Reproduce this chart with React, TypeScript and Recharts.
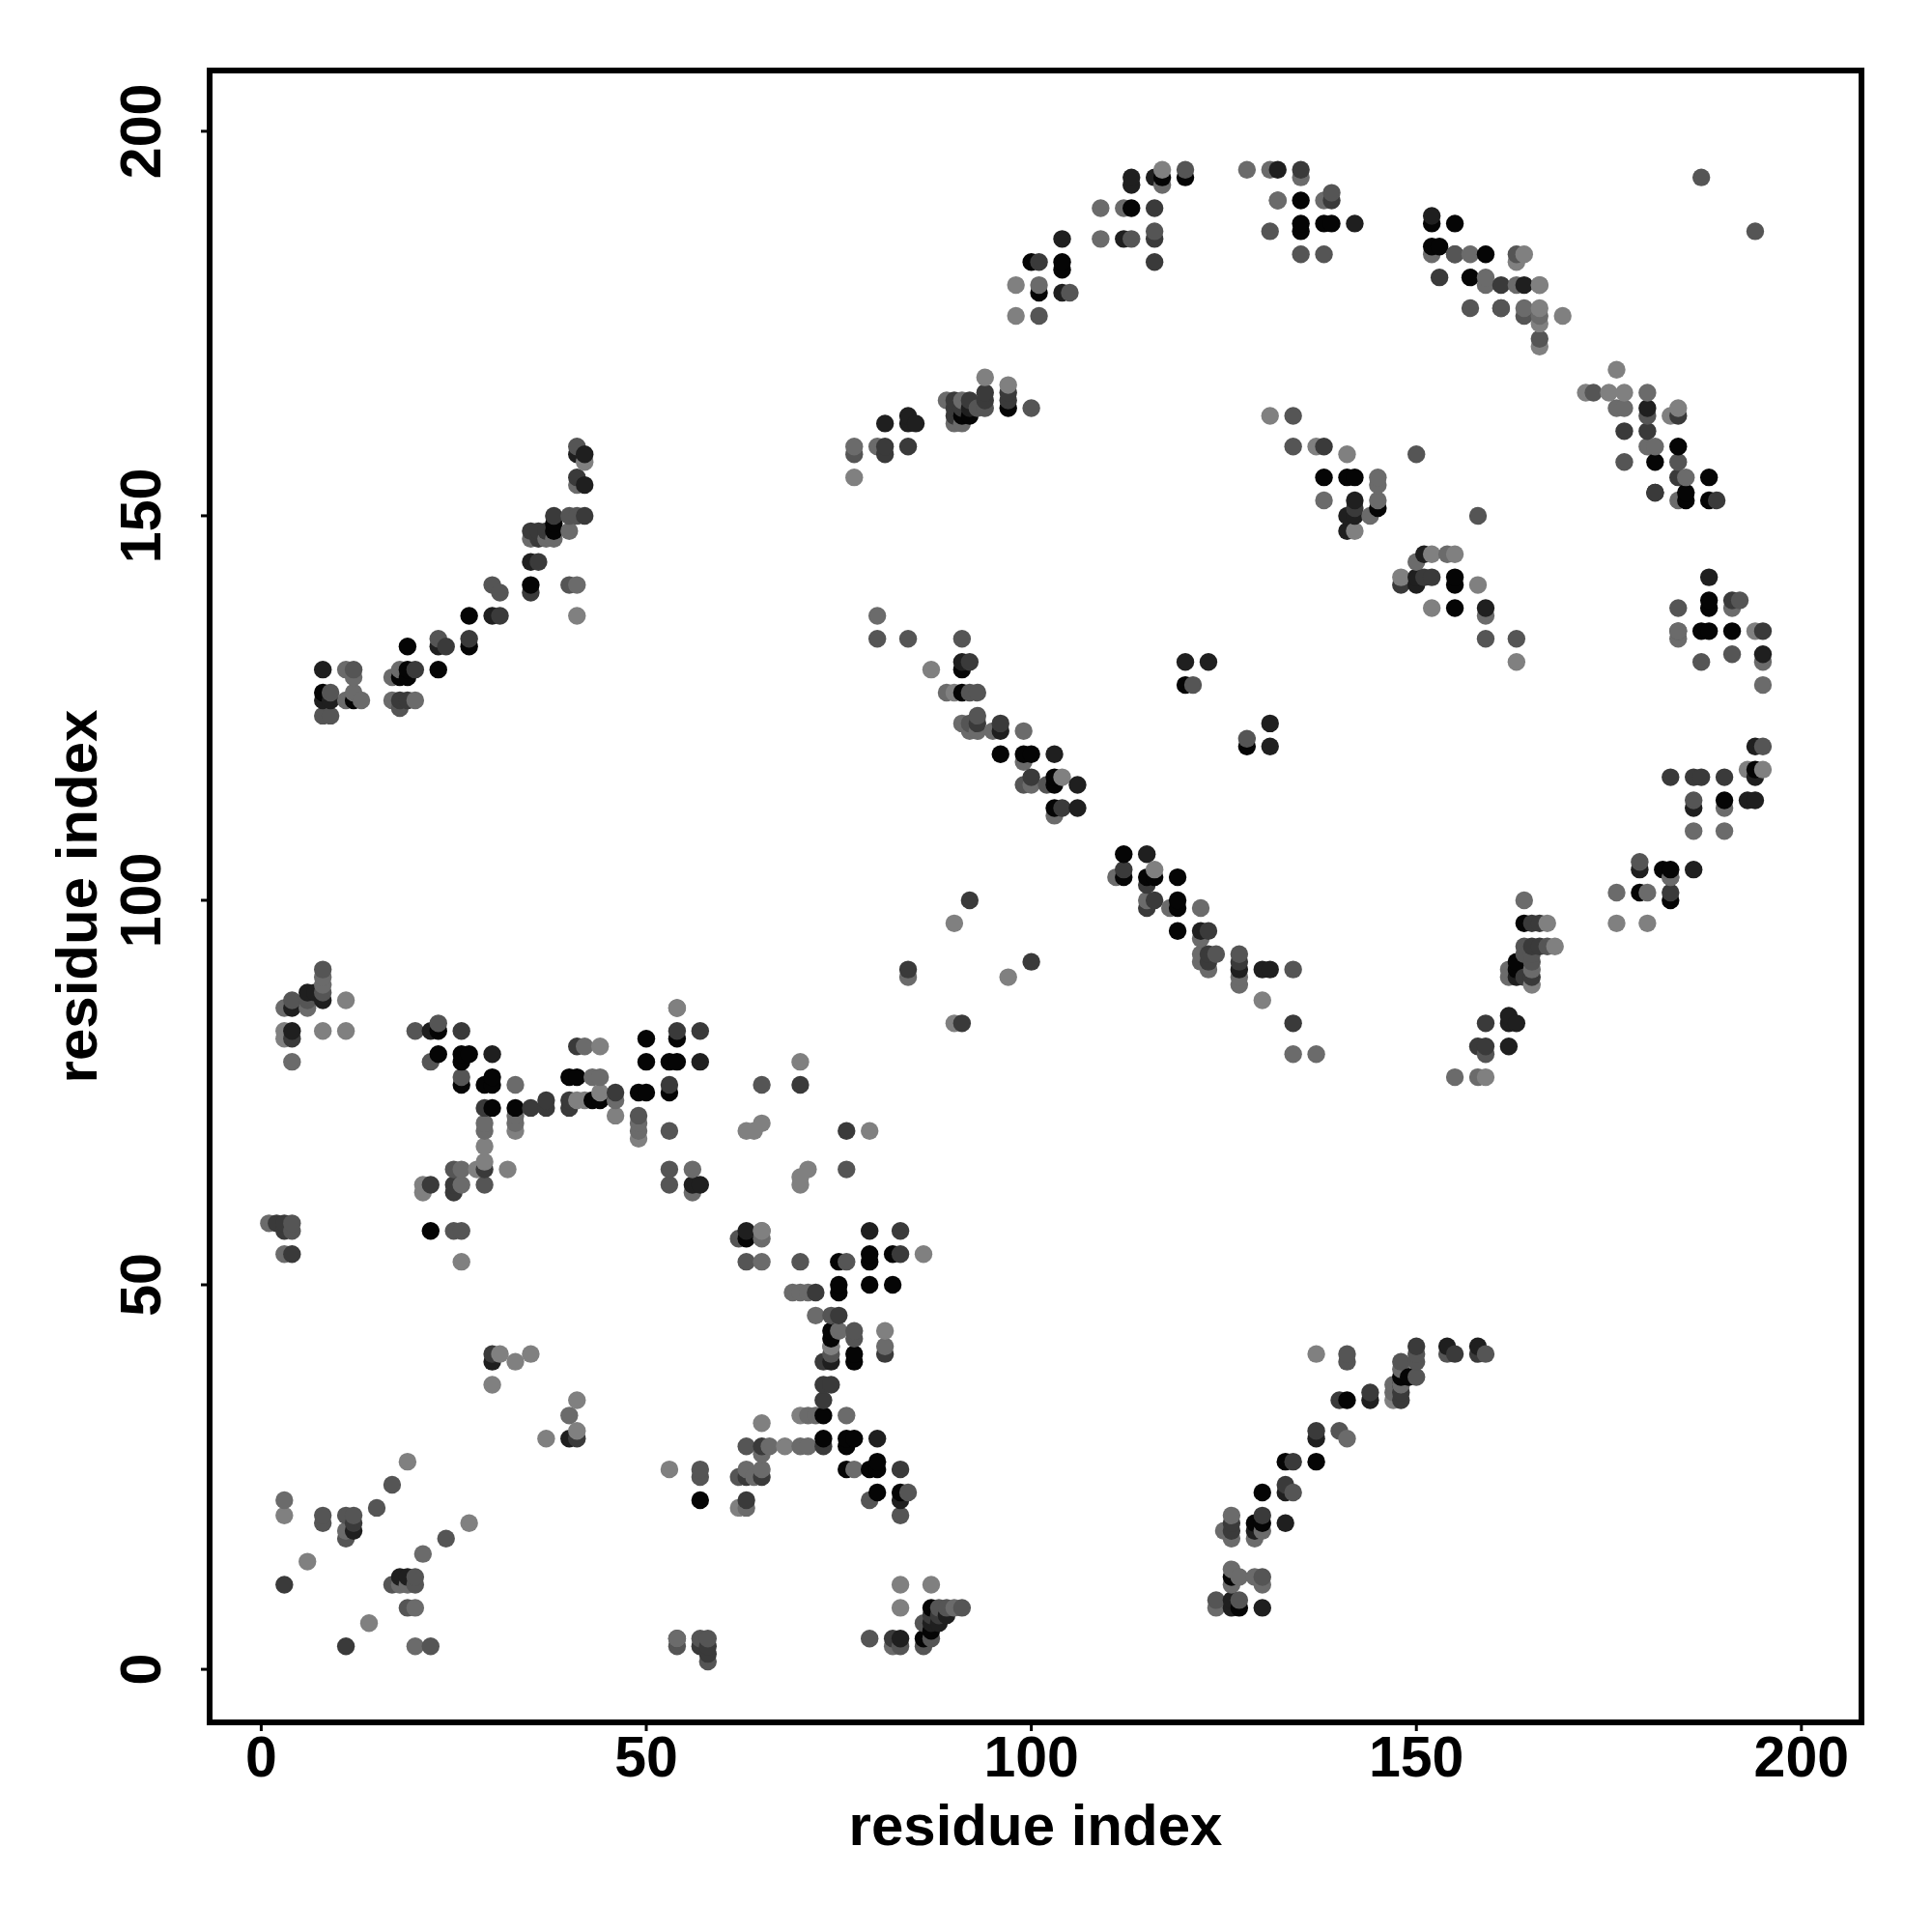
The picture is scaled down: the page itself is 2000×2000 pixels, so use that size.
import React from "react";
import { ScatterChart, Scatter, XAxis, YAxis, ReferenceArea } from "recharts";

// contacts grouped by grey level, [x residue, y residue]
const blackPoints = [
  [23,83],[23,80],[26,80],[27,80],[26,79],[26,76],[29,76],[30,77],[30,76],[30,73],[33,73],[40,77],[41,77],[43,74],[44,74],
  [49,75],[50,75],[53,75],[50,82],[50,79],[53,79],[54,79],[54,82],[22,57],[63,56],[75,53],[79,54],[79,53],[82,54],[79,50],
  [82,50],[75,50],[75,49],[74,44],[74,43],[77,41],[77,40],[73,33],[73,30],[76,30],[77,30],[76,29],[76,26],[79,26],[80,27],
  [80,26],[80,23],[83,23],[57,22],[86,4],[87,5],[87,8],[141,35],[133,27],[137,27],[130,23],[130,19],[129,19],[127,8],[126,12],
  [149,38],[148,38],[8,127],[12,126],[18,129],[19,129],[23,130],[19,130],[19,133],[27,137],[35,141],[27,133],[38,149],[38,148],
  [91,163],[92,163],[97,164],[91,130],[91,127],[96,119],[99,119],[100,119],[103,116],[103,115],[103,112],[112,103],[115,103],
  [116,103],[119,103],[112,106],[119,100],[119,99],[119,96],[120,128],[128,120],[113,190],[117,194],[120,194],[100,183],
  [104,183],[104,182],[101,179],[135,191],[135,188],[135,187],[138,188],[139,188],[152,188],[155,188],[152,185],[153,185],
  [159,184],[157,181],[184,159],[181,157],[188,155],[185,153],[185,152],[188,152],[138,155],[141,155],[142,155],[145,151],
  [155,142],[155,141],[155,138],[188,139],[188,138],[187,135],[188,135],[191,135],[194,117],[190,113],[182,104],[183,104],
  [179,101],[183,100],[164,97],[163,92],[163,91],
];
const veryDarkPoints = [
  [8,87],[7,88],[6,88],[4,86],[4,83],[22,83],[30,80],[63,57],[57,79],[79,57],[56,63],[57,63],[74,40],[80,30],[83,22],[30,40],
  [18,12],[19,12],[12,18],[40,30],[87,6],[88,6],[89,7],[83,4],[137,30],[144,35],[133,23],[129,18],[133,19],[126,9],[126,8],
  [130,8],[154,42],[158,42],[148,37],[42,158],[41,158],[42,154],[35,144],[30,137],[23,133],[8,130],[8,126],[9,126],[84,162],
  [84,163],[85,162],[81,162],[92,164],[91,131],[96,122],[103,119],[106,115],[106,112],[115,106],[122,96],[127,91],[130,91],
  [131,91],[120,131],[123,131],[131,123],[131,120],[113,194],[113,193],[116,194],[112,186],[104,186],[104,179],[132,195],
  [142,188],[152,189],[164,180],[180,164],[181,153],[142,152],[141,150],[142,150],[151,145],[150,142],[159,138],[188,142],
  [195,132],[194,120],[194,116],[193,113],[194,113],[186,112],[179,104],[186,104],[163,90],[162,85],[162,84],[163,84],[162,81],
  [141,148],[150,141],
];
const darkPoints = [
  [4,82],[26,83],[29,73],[35,73],[37,74],[37,73],[40,74],[40,73],[41,81],[46,75],[53,76],[54,83],[57,83],[29,65],[25,62],[22,63],
  [25,63],[2,58],[3,58],[3,57],[4,54],[30,41],[12,19],[3,11],[11,3],[41,30],[54,4],[57,3],[58,3],[58,2],[70,76],[76,70],[83,57],
  [83,54],[72,49],[75,46],[81,41],[73,40],[73,37],[74,37],[73,35],[73,29],[65,29],[83,26],[63,25],[65,25],[63,22],[82,4],[88,7],
  [87,7],[137,31],[140,35],[144,36],[133,24],[130,20],[126,19],[126,18],[150,42],[148,36],[148,35],[134,27],[155,41],[158,41],
  [38,150],[42,150],[35,148],[36,148],[37,148],[35,140],[36,147],[36,144],[41,155],[31,137],[24,133],[27,134],[18,126],[19,126],
  [20,130],[81,159],[81,158],[84,159],[94,166],[94,165],[97,166],[97,165],[90,165],[92,165],[90,164],[91,164],[90,163],[92,131],
  [93,123],[96,123],[100,116],[104,112],[112,104],[116,100],[115,99],[115,102],[123,96],[123,93],[123,92],[127,92],[92,100],
  [100,92],[84,91],[91,84],[116,190],[116,186],[116,183],[101,183],[135,195],[139,191],[155,184],[153,181],[161,180],[161,177],
  [177,161],[180,161],[184,155],[181,153],[189,152],[138,159],[142,151],[148,141],[151,142],[152,142],[191,139],[195,135],
  [183,116],[186,116],[187,116],[190,116],[183,101],[165,97],[166,97],[165,94],[166,94],[165,90],[164,90],[159,84],[158,81],
  [159,81],[134,84],[184,163],
];
const midPoints = [
  [8,91],[8,88],[6,87],[4,87],[20,83],[23,84],[22,79],[26,77],[49,72],[25,65],[29,63],[4,58],[4,57],[25,57],[26,57],[53,70],
  [53,65],[53,63],[65,76],[76,65],[62,56],[63,53],[70,53],[76,53],[77,44],[77,43],[74,46],[74,41],[63,29],[57,26],[57,25],[62,25],
  [79,22],[84,23],[83,20],[79,4],[83,3],[87,4],[86,3],[86,6],[88,8],[89,8],[91,8],[54,3],[57,4],[58,4],[58,1],[8,19],[8,20],[11,20],
  [12,20],[11,17],[15,21],[17,24],[24,17],[17,11],[20,12],[20,11],[19,8],[22,3],[141,41],[141,40],[140,31],[134,23],[130,12],
  [124,9],[127,9],[148,40],[150,41],[150,40],[150,38],[154,41],[159,41],[41,159],[40,150],[41,150],[40,141],[30,141],[31,140],
  [23,134],[9,127],[12,130],[9,124],[8,124],[18,125],[77,158],[94,164],[100,164],[93,164],[80,134],[84,134],[91,134],[93,124],
  [92,123],[93,127],[92,127],[99,115],[102,115],[121,128],[128,121],[124,93],[127,93],[134,91],[163,184],[164,176],[166,173],
  [161,177],[177,157],[184,157],[180,163],[157,177],[131,187],[116,187],[113,186],[101,176],[105,179],[139,192],[132,191],
  [120,195],[135,184],[138,184],[134,163],[134,159],[150,158],[158,150],[159,134],[163,134],[187,131],[191,132],[192,139],
  [184,138],[184,135],[195,120],[186,113],[179,105],[183,103],[164,94],[167,94],[164,93],[165,93],[165,92],[159,80],[187,194],
  [194,187],[173,166],[155,184],
];
const greyPoints = [
  [8,90],[8,89],[6,86],[3,86],[4,79],[42,81],[43,77],[44,77],[46,74],[49,71],[49,70],[33,76],[29,71],[29,70],[33,72],[33,71],
  [26,65],[26,63],[1,58],[3,54],[56,65],[56,62],[54,86],[65,57],[65,56],[65,53],[71,49],[70,49],[69,49],[72,46],[75,44],[74,42],
  [81,42],[71,33],[72,33],[76,33],[66,29],[70,29],[71,29],[65,28],[77,26],[63,26],[64,25],[65,26],[63,21],[82,3],[90,8],[3,22],
  [11,18],[18,11],[19,11],[20,8],[21,15],[20,3],[40,33],[54,4],[126,20],[125,18],[126,17],[126,13],[127,12],[126,11],[129,12],
  [130,18],[130,11],[124,8],[129,17],[141,30],[148,39],[147,37],[147,36],[148,37],[41,154],[41,141],[40,148],[35,147],[37,147],
  [38,147],[17,126],[20,126],[11,126],[12,127],[13,126],[12,129],[11,130],[18,130],[17,129],[80,137],[77,159],[80,159],[90,162],
  [91,162],[89,165],[91,165],[101,180],[89,127],[91,123],[92,122],[93,122],[95,122],[99,122],[99,118],[100,115],[103,111],[111,103],
  [115,100],[118,99],[122,99],[122,95],[122,93],[122,92],[123,91],[127,90],[127,89],[134,80],[137,80],[84,90],[109,190],[112,190],
  [109,186],[117,193],[128,195],[131,195],[135,194],[132,191],[138,191],[152,184],[157,184],[159,181],[159,180],[163,180],[166,180],
  [164,177],[166,176],[176,164],[177,164],[180,166],[180,159],[181,159],[185,155],[184,152],[145,155],[145,154],[145,152],[144,150],
  [138,152],[150,144],[154,145],[159,137],[191,138],[184,134],[195,131],[195,128],[184,135],[176,101],[180,101],[186,109],[190,109],
  [190,112],[183,103],[164,100],[162,91],[162,90],[165,91],[158,77],[155,77],
];
const lightPoints = [
  [11,87],[3,83],[3,82],[8,83],[11,83],[44,81],[41,74],[42,74],[44,75],[46,72],[49,69],[33,70],[29,68],[29,66],[28,65],[32,65],
  [21,63],[21,62],[26,53],[31,41],[33,40],[35,41],[30,37],[37,30],[41,31],[41,35],[53,26],[54,86],[70,79],[63,70],[64,70],[65,71],
  [71,65],[70,64],[70,63],[79,70],[65,57],[86,54],[81,44],[74,42],[70,33],[65,32],[68,29],[62,21],[83,11],[87,11],[83,8],[3,20],
  [6,14],[19,27],[27,19],[14,6],[137,41],[147,35],[41,137],[42,157],[94,168],[97,167],[77,155],[98,180],[98,176],[87,130],[90,127],
  [116,104],[104,116],[130,87],[90,97],[97,90],[90,84],[117,195],[164,184],[163,183],[166,180],[166,177],[166,175],[169,176],
  [166,172],[176,169],[172,166],[175,166],[177,166],[183,163],[184,164],[131,163],[137,159],[141,158],[142,148],[148,142],[152,145],
  [155,145],[158,141],[152,138],[163,131],[194,135],[193,117],[195,117],[176,97],[180,97],[167,97],[168,94],[165,89],[159,77],
];

const tickValues = [0, 50, 100, 150, 200];

const pointGroups = [blackPoints, veryDarkPoints, darkPoints, midPoints, greyPoints, lightPoints];
const groupColors = ["#050505", "#1f1f1f", "#3a3a3a", "#555555", "#6b6b6b", "#808080"];

// the original paints in residue order, later points on top
const chartData = pointGroups
  .flatMap((points, level) => points.map(([x, y]) => ({ x, y, fill: groupColors[level] })))
  .sort((a, b) => a.x - b.x || a.y - b.y);

const FONT = '"Liberation Sans", Arial, sans-serif';
const xDomain: [number, number] = [-6.7, 207.8];
const yDomain: [number, number] = [-6.9, 207.9];

function YTick({ x, y, payload }: any) {
  return (
    <text
      x={x - 40}
      y={y}
      transform={`rotate(-90 ${x - 40} ${y})`}
      textAnchor="middle"
      fontFamily={FONT}
      fontWeight="bold"
      fontSize={59}
      fill="#000"
    >
      {payload.value}
    </text>
  );
}

function Dot({ cx, cy, payload }: any) {
  return <circle cx={cx} cy={cy} r={9.2} fill={payload.fill} />;
}

export default function App() {
  return (
    <div style={{ position: "absolute", left: 0, top: 0, width: 2000, height: 2000, background: "#fff" }}>
      <ScatterChart width={2000} height={2000} margin={{ top: 73, right: 73, bottom: 0, left: 0 }}>
        <XAxis
          type="number"
          dataKey="x"
          domain={xDomain}
          ticks={tickValues}
          allowDataOverflow
          height={217}
          axisLine={false}
          tickLine={{ stroke: "#000", strokeWidth: 3 }}
          tickSize={9}
          tickMargin={5}
          tick={{ fontFamily: FONT, fontWeight: "bold", fontSize: 59, fill: "#000" }}
          label={{
            value: "residue index",
            position: "insideBottom",
            offset: 90,
            fontFamily: FONT,
            fontWeight: "bold",
            fontSize: 60,
            fill: "#000",
          }}
        />
        <YAxis
          type="number"
          dataKey="y"
          domain={yDomain}
          ticks={tickValues}
          allowDataOverflow
          width={217}
          axisLine={false}
          tickLine={{ stroke: "#000", strokeWidth: 3 }}
          tickSize={9}
          tick={<YTick />}
          label={{
            value: "residue index",
            angle: -90,
            position: "insideLeft",
            offset: 79,
            textAnchor: "middle",
            fontFamily: FONT,
            fontWeight: "bold",
            fontSize: 60,
            fill: "#000",
          }}
        />
        <Scatter data={chartData} isAnimationActive={false} shape={<Dot />} />
        <ReferenceArea
          x1={xDomain[0]}
          x2={xDomain[1]}
          y1={yDomain[0]}
          y2={yDomain[1]}
          fill="none"
          stroke="#000"
          strokeWidth={6}
          ifOverflow="visible"
        />
      </ScatterChart>
    </div>
  );
}
